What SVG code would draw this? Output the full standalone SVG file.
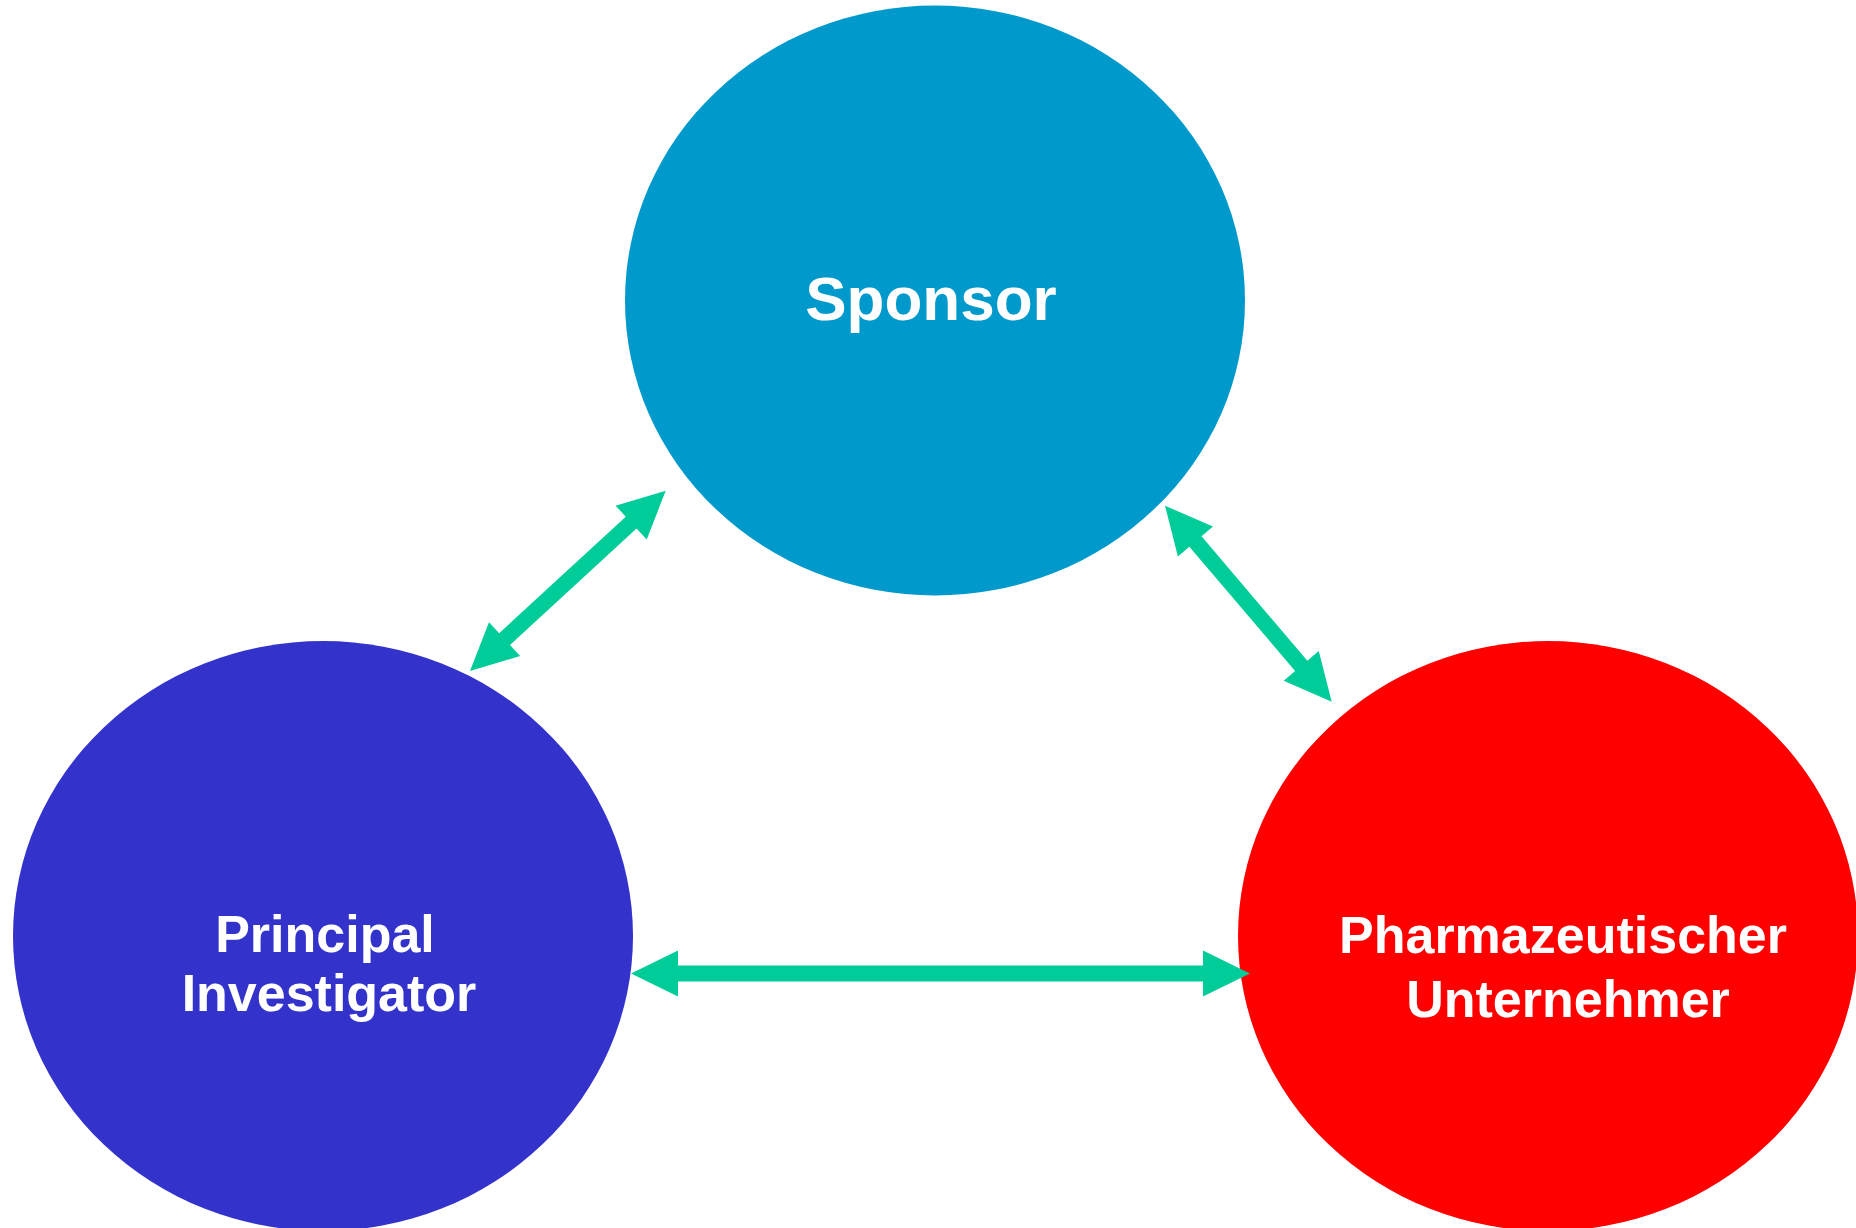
<svg xmlns="http://www.w3.org/2000/svg" width="1856" height="1228" viewBox="0 0 1856 1228">
  <style>
    .lbl { font-family: "Liberation Sans", Arial, sans-serif; font-weight: bold; fill: #FFFFFF; text-anchor: middle; }
    .arrow { fill: #00CC99; stroke: none; }
  </style>
  <rect width="1856" height="1228" fill="#FFFFFF"/>
  <g id="node-sponsor">
    <ellipse cx="935" cy="300.5" rx="310" ry="295" fill="#0099CC"/>
    <text class="lbl" x="931" y="320" font-size="62">Sponsor</text>
  </g>
  <g id="node-pi">
    <ellipse cx="323" cy="936" rx="310" ry="295" fill="#3333CC"/>
    <text class="lbl" font-size="52"><tspan x="325" y="952">Principal</tspan><tspan x="329" y="1011">Investigator</tspan></text>
  </g>
  <g id="node-pu">
    <ellipse cx="1548" cy="936" rx="310" ry="295" fill="#FF0000"/>
    <text class="lbl" font-size="52"><tspan x="1563" y="953">Pharmazeutischer</tspan><tspan x="1568" y="1017">Unternehmer</tspan></text>
  </g>
  <g id="connectors">
    <polygon class="arrow" transform="translate(631,973.5)" points="0,0 47,-23 47,-8 572,-8 572,-23 619,0 572,23 572,8 47,8 47,23"/>
    <polygon class="arrow" transform="translate(470,671) rotate(-42.65)" points="0,0 47,-23 47,-8 219.1,-8 219.1,-23 266.1,0 219.1,23 219.1,8 47,8 47,23"/>
    <polygon class="arrow" transform="translate(1165,505.7) rotate(49.62)" points="0,0 47,-23 47,-8 210.3,-8 210.3,-23 257.3,0 210.3,23 210.3,8 47,8 47,23"/>
  </g>
</svg>
